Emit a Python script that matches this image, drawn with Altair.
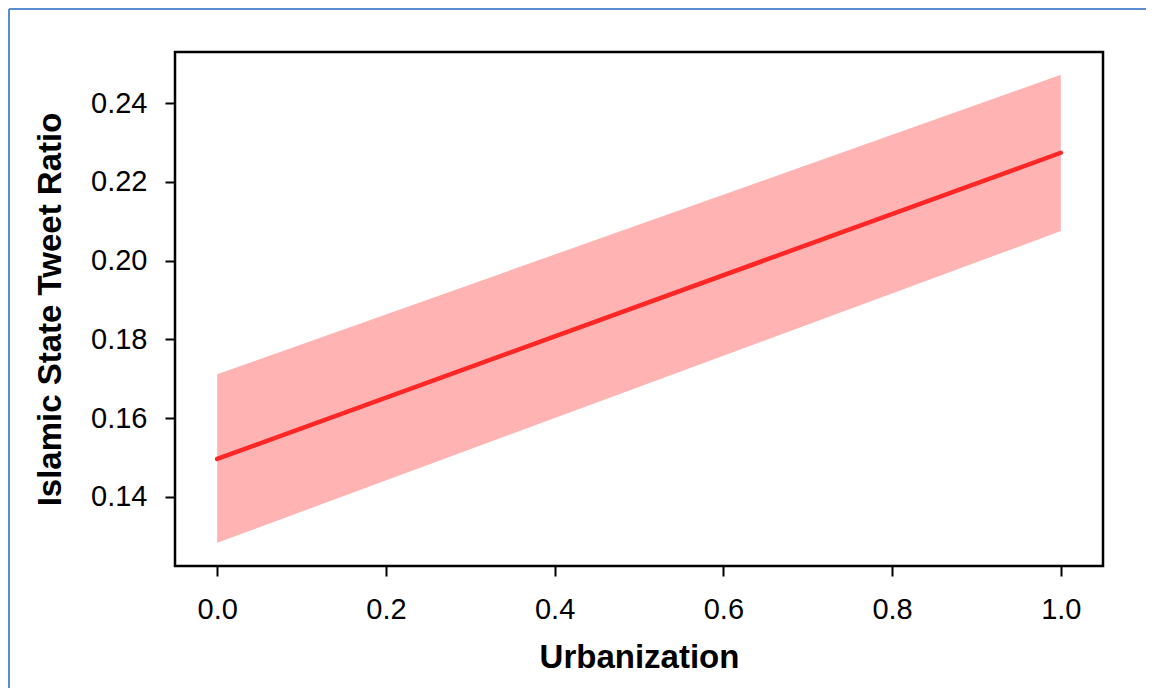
import altair as alt
import pandas as pd

# Data
x_vals = [0.0, 1.0]
fit_vals = [0.1496, 0.2274]
lower_vals = [0.1283, 0.2075]
upper_vals = [0.1711, 0.2472]

x_ticks = [0.0, 0.2, 0.4, 0.6, 0.8, 1.0]
y_ticks = [0.14, 0.16, 0.18, 0.20, 0.22, 0.24]

df = pd.DataFrame({"x": x_vals, "fit": fit_vals, "lower": lower_vals, "upper": upper_vals})

FONT = "Liberation Sans"
W, H = 928, 514
PAD = {"left": 167, "top": 44, "right": 43, "bottom": 122}

xscale = alt.Scale(domain=[-0.05, 1.05], nice=False, zero=False)
yscale = alt.Scale(domain=[0.1224, 0.2530], nice=False, zero=False)

xaxis = alt.Axis(
    values=x_ticks, format=".1f", grid=False, domain=False,
    tickColor="black", tickWidth=2, tickSize=10,
    labelFont=FONT, labelFontSize=29, labelColor="black",
    labelBaseline="alphabetic", labelPadding=42, labelFlush=False,
    title="Urbanization", titleFont=FONT, titleFontSize=33,
    titleFontWeight="bold", titleColor="black",
    titleBaseline="alphabetic", titleX=W / 2, titleY=101, titleAlign="center",
)
yaxis = alt.Axis(
    values=y_ticks, format=".2f", grid=False, domain=False,
    tickColor="black", tickWidth=2, tickSize=10,
    labelFont=FONT, labelFontSize=29, labelColor="black",
    labelBaseline="middle", labelPadding=18, labelFlush=False,
    title="Islamic State Tweet Ratio", titleFont=FONT, titleFontSize=33,
    titleFontWeight="bold", titleColor="black",
    titleAngle=270, titleBaseline="alphabetic", titleAlign="center",
    titleX=-115, titleY=H / 2,
)

base = alt.Chart(df)
band = base.mark_area(color="#FFB3B3", opacity=1).encode(
    x=alt.X("x:Q", scale=xscale, axis=xaxis),
    y=alt.Y("lower:Q", scale=yscale, axis=yaxis),
    y2="upper:Q",
)
line = base.mark_line(color="#FF2626", strokeWidth=4.5, strokeCap="round").encode(
    x=alt.X("x:Q", scale=xscale),
    y=alt.Y("fit:Q", scale=yscale),
)

one = pd.DataFrame({"a": [0]})

# black box around the plot area (as in the original R figure)
box = alt.Chart(one).mark_rect(
    fill=None, stroke="black", strokeWidth=2.5
).encode(
    x=alt.value(0), x2=alt.value(W),
    y=alt.value(0), y2=alt.value(H),
)

# decorative light-blue frame of the original figure (top and left edges)
frame_top = alt.Chart(one).mark_rule(color="#5B8BD0", strokeWidth=2).encode(
    x=alt.value(-166), x2=alt.value(W + 43), y=alt.value(-43)
)
frame_left = alt.Chart(one).mark_rule(color="#5B8BD0", strokeWidth=2).encode(
    x=alt.value(-166), y=alt.value(-43), y2=alt.value(H + 122)
)

chart = alt.layer(band, line, box, frame_top, frame_left).properties(
    width=W, height=H,
    autosize=alt.AutoSizeParams(type="none"),
    padding=PAD,
).configure_view(stroke=None).configure(font=FONT)

chart.save("out.html", embed_options={"renderer": "svg", "actions": False})
